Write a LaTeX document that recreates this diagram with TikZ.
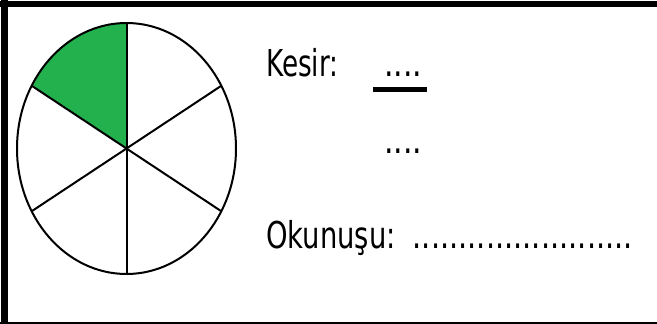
\documentclass[tikz,border=0pt]{standalone}
\usepackage{fontspec}
\setmainfont{DejaVu Sans}
\usepackage{graphicx}
\definecolor{pie}{RGB}{34,177,76}
\newcommand{\sx}[2]{\scalebox{#1}[1]{#2}}
\begin{document}
\begin{tikzpicture}[x=1pt,y=-1pt,
  txt/.style={inner sep=0pt, anchor=base west, font=\fontsize{37}{40}\selectfont},
  edge/.style={line width=2pt}]
\useasboundingbox (0,0) rectangle (657,324);
% frame
\fill (0,1) rectangle (657,6.5);
\fill (1,0) rectangle (7.5,324);
\fill (0,321.5) rectangle (657,323.5);
% pie
\coordinate (c) at (126.5,148.5);
\fill[pie] (c) -- ++(210:109.5 and 125.5) arc[start angle=210,end angle=270,x radius=109.5,y radius=125.5] -- cycle;
\foreach \a in {30,90,150,210,270,330}
  \draw[edge] (c) -- ++(\a:109.5 and 125.5);
\draw[edge] (c) ellipse[x radius=109.5, y radius=125.5];
% texts
\node[txt] (kesir) at (266,76) {\sx{0.71}{Kesir:}};
\node[txt] (pay) at (384,76) {\sx{0.81}{....}};
\draw[line width=4.5pt] (373,89.5) -- (427,89.5);
\node[txt] (payda) at (384,153) {\sx{0.81}{....}};
\node[txt] (okunusu) at (266,248) {\sx{0.74}{Okunuşu:}\hspace{17pt}\sx{0.78}{........................}};
\end{tikzpicture}
\end{document}
